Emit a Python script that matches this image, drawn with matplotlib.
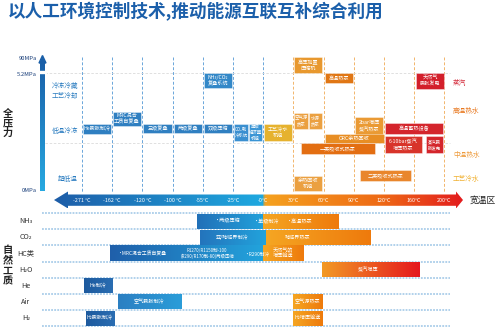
import numpy as np
import matplotlib
matplotlib.use("Agg")
import matplotlib.pyplot as plt
from matplotlib.patches import Polygon, Rectangle
from matplotlib.colors import LinearSegmentedColormap

plt.rcParams['font.family'] = ['Noto Sans CJK SC', 'DejaVu Sans']

# temperature columns (evenly spaced, non-linear scale)
temps = ['-271 °C', '-162 °C', '-120 °C', '-100 °C', '-55°C', '-25°C', '-0°C',
         '30°C', '60°C', '90°C', '120°C', '160°C', '200°C']

# upper panel boxes: temperature span in column units, pressure band as rows
box_names = ["He膨胀制冷", "MRC混合\n工质自复叠", "三级复叠", "两级复叠", "双级压缩",
             "CO₂载\n冷系统", "单级\n经济器\n机组", "NH₃/CO₂\n复叠系统", "工艺冷水\n机组",
             "高压加置\n压缩机", "高温热泵", "天然气\n膨胀发电", "空气源\n热泵", "水源\n热泵",
             "2bar增压\n蒸汽热泵", "高温蓄热设备", "ORC余热回收", "6-10bar蒸汽\n增压热泵",
             "蒸汽膨\n胀发电", "一类吸收式热泵", "二类吸收式热泵", "余热回收\n机组"]
box_t0 = [0.03, 1.03, 2.02, 3.05, 4.04, 5.03, 5.53, 4.04, 6.03, 7.02, 8.05, 11.06,
          7.02, 7.52, 9.04, 10.03, 8.05, 10.03, 11.39, 7.25, 9.20, 7.02]
box_t1 = [0.96, 1.95, 2.98, 3.97, 4.97, 5.50, 5.96, 4.97, 6.95, 7.95, 8.97, 11.99,
          7.48, 7.95, 9.97, 11.95, 10.00, 11.26, 11.95, 9.70, 10.90, 7.95]
box_top = [124, 112, 124, 124, 124, 124, 124, 73, 124, 57, 73, 73,
           113, 113, 117, 123, 134, 136, 136, 143, 170, 176]
box_bot = [134, 126, 133, 133, 133, 141, 141, 88, 141, 73, 83, 89,
           129, 129, 135, 134, 143, 153, 153, 154, 181, 191]
box_col = ['#2F7FC1', '#2F7FC1', '#2F7FC1', '#2F7FC1', '#2F7FC1', '#3A8FD0', '#3A95D5',
           '#3388C8', '#E6B22E', '#E8982E', '#E07614', '#D31F2B', '#EBA040', '#EBA040',
           '#EA9A34', '#D4252C', '#E88E24', '#D8342A', '#D4252C', '#E36E12', '#E9862C',
           '#EBA040']

# lower panel: natural refrigerants
rows = ['NH₃', 'CO₂', 'HC类', 'H₂O', 'He', 'Air', 'H₂']
seg_row = [0, 0, 1, 1, 2, 2, 3, 4, 5, 5, 6, 6]
seg_t0 = [3.81, 5.99, 3.91, 6.09, 0.93, 5.99, 7.95, 0.07, 1.19, 6.99, 0.13, 6.99]
seg_t1 = [5.99, 8.48, 6.09, 9.54, 5.99, 7.32, 11.19, 1.03, 3.28, 7.98, 1.09, 7.98]
seg_c0 = ['#2170B8', '#F5A623', '#2474BC', '#F5A623', '#1F5FAA', '#F5A623', '#F29A25',
          '#1D5A9E', '#2C7FC2', '#F5A623', '#1D5A9E', '#F5A623']
seg_c1 = ['#22A0DA', '#EE7A0C', '#22A3DC', '#EE7A0C', '#23A3DC', '#EE7A0C', '#E5171E',
          '#2A6DB2', '#2A9DD9', '#EE7A0C', '#2A6DB2', '#EE7A0C']
txt_row = [0, 0, 0, 1, 1, 2, 2, 2, 2, 3, 4, 5, 5, 6, 6]
txt_t = [4.83, 6.13, 7.22, 4.97, 7.15, 1.98, 4.14, 5.80, 6.66, 9.47, 0.53, 2.22, 7.48, 0.60, 7.48]
txt_str = ['·两级压缩', '·单级制冷', '·高温热泵', '亚/跨临界制冷', '跨临界热泵',
           '·MRC混合工质自复叠', 'R1270/R1150制-100\n(R290/R170制-80)两级压缩', '·R290制冷',
           '天然气的\n增压输送', '蒸汽增压', 'He制冷', '空气膨胀制冷', '空气源热泵',
           'H₂膨胀制冷', 'H₂增压输送']
txt_fs = [3.7, 3.7, 3.7, 3.7, 3.7, 3.5, 3.2, 3.4, 3.7, 3.7, 3.7, 3.7, 3.7, 3.7, 3.7]


def c(px):
    # pixel x -> temperature column
    return (px - 82) / 30.2


def grad(ax, x0, x1, y0, y1, cols, clip=None, stops=None, vertical=False):
    cm = LinearSegmentedColormap.from_list('g', list(zip(stops, cols)) if stops else cols)
    arr = np.linspace(0, 1, 256)
    arr = arr.reshape(-1, 1) if vertical else arr.reshape(1, -1)
    img = ax.imshow(arr, cmap=cm, aspect='auto', origin='upper',
                    extent=[x0, x1, y1, y0], zorder=2, interpolation='bilinear')
    if clip is not None:
        img.set_clip_path(clip)
    return img


fig = plt.figure(figsize=(5, 3.29), dpi=100)
ax = fig.add_axes([0, 0, 1, 1])
ax.set_xlim(c(0), c(500))
ax.set_ylim(329, 0)
ax.axis('off')

fig.text(0.016, 0.965, '以人工环境控制技术,推动能源互联互补综合利用', fontsize=12.7,
         fontweight='bold', color='#1B5FAA', va='center', ha='left')

# grid
for i in range(len(temps)):
    ax.plot([i, i], [57, 192], ls=(0, (3, 2)), lw=0.7,
            color='#6AA6DA' if i <= 6 else '#F2B56B', zorder=1)
for yy in [73, 143]:
    ax.plot([c(45), c(450)], [yy, yy], ls=(0, (3, 2)), lw=0.6, color='#DADADA', zorder=1)

# pressure arrow
shaft = Rectangle((c(40), 62), c(45) - c(40), 129, transform=ax.transData)
grad(ax, c(40), c(45), 62, 191, ['#1A5FA8', '#27A9E1'], clip=shaft, vertical=True)
ax.add_patch(Polygon([(c(39), 63), (c(42.5), 55.5), (c(46), 63)], color='#1A5FA8', zorder=3))
ax.add_patch(Rectangle((c(39), 71), c(46) - c(39), 2, color='white', zorder=3))
for lab, yy in [('90MPa', 59), ('5.2MPa', 74.5), ('0MPa', 190)]:
    ax.text(c(37), yy, lab, fontsize=4.2, color='#1A3F7A', ha='right', va='center')
for ch, yy in zip('全压力', [114, 123.5, 133]):
    ax.text(c(8), yy, ch, fontsize=7.3, fontweight='bold', ha='center', va='center', color='#222222')

# category labels
ax.text(c(65), 91, '冷冻冷藏\n工艺冷却', fontsize=4.8, color='#2A7CC0', ha='center', va='center',
        linespacing=1.4)
ax.text(c(65), 131, '低温冷冻', fontsize=4.8, color='#2A7CC0', ha='center', va='center')
ax.text(c(68), 179, '超低温', fontsize=4.8, color='#2A7CC0', ha='center', va='center')
for lab, yy, col in [('蒸汽', 83, '#D42A3A'), ('高温热水', 111, '#E8771E'),
                     ('中温热水', 155, '#EE9A3A'), ('工艺冷水', 179, '#F0B030')]:
    ax.text(c(453), yy, lab, fontsize=4.8, color=col, ha='left', va='center')

# boxes
for name, t0, t1, y0, y1, col in zip(box_names, box_t0, box_t1, box_top, box_bot, box_col):
    ax.add_patch(Rectangle((t0, y0), t1 - t0, y1 - y0, facecolor=col,
                           edgecolor=(1, 1, 1, 0.45), lw=0.6, zorder=4))
    fs = 3.2 if (t1 - t0) < 0.6 else 3.7
    ax.text((t0 + t1) / 2, (y0 + y1) / 2, name, fontsize=fs, color='white', ha='center',
            va='center', linespacing=1.2, zorder=5)

# temperature arrow
xl, xh = c(54), c(463)
arrow = Polygon([(xl, 200), (c(68), 191.5), (c(68), 194.5), (c(456), 194.5), (c(456), 191.5),
                 (xh, 200), (c(456), 208.5), (c(456), 205.8), (c(68), 205.8), (c(68), 208.5)],
                transform=ax.transData)
f0 = (263 - 54) / (463 - 54)
grad(ax, xl, xh, 191.5, 208.5, ['#1D5DA8', '#1FA9E0', '#F5A21F', '#EE6A15', '#E31C1E'],
     clip=arrow, stops=[0, f0, f0 + 0.004, 0.8, 1])
for i, t in enumerate(temps):
    ax.text(i, 200.2, t, fontsize=3.9, color='white', ha='center', va='center', zorder=5)
ax.text(c(483), 200, '宽温区', fontsize=6.3, color='#222222', ha='center', va='center')

# lower panel
row_y = 221.3 + 16.1 * np.arange(len(rows))
for k in range(len(rows) + 1):
    ax.plot([c(42), c(450)], [213.2 + 16.1 * k] * 2, ls=(0, (1.2, 0.8)), lw=1.1,
            color='#9CC5E6', zorder=1)
for k, r in enumerate(rows):
    ax.text(c(26), row_y[k], r, fontsize=5.2, color='#333333', ha='center', va='center')
for ch, yy in zip('自然工质', [250, 260.5, 271, 281]):
    ax.text(c(8), yy, ch, fontsize=7.3, fontweight='bold', ha='center', va='center', color='#222222')
for r, t0, t1, c0, c1 in zip(seg_row, seg_t0, seg_t1, seg_c0, seg_c1):
    y0, y1 = row_y[r] - 7.4, row_y[r] + 7.6
    grad(ax, t0, t1, y0, y1, [c0, c1])
for r, t, s, fs in zip(txt_row, txt_t, txt_str, txt_fs):
    ax.text(t, row_y[r], s, fontsize=fs, color='white', ha='center', va='center',
            linespacing=1.15, zorder=5)

ax.set_xlim(c(0), c(500))
ax.set_ylim(329, 0)
fig.savefig('out.png', dpi=100)
